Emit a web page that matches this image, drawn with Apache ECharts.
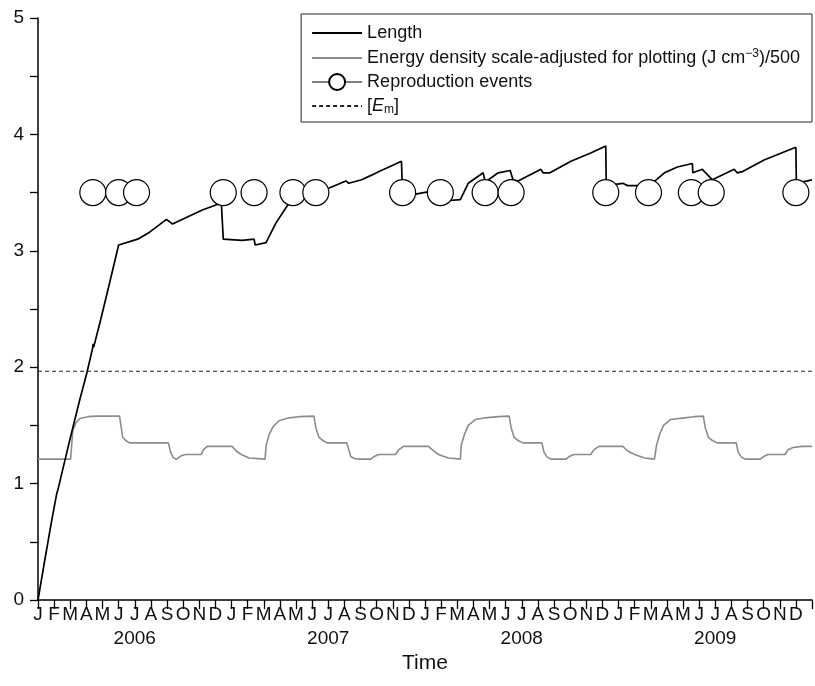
<!DOCTYPE html>
<html>
<head>
<meta charset="utf-8">
<script src="https://cdn.jsdelivr.net/npm/echarts@6/dist/echarts.min.js"></script>
<style>
	html, body { margin: 0; padding: 0; background: #fff; }
	#main { width: 815px; height: 686px; }
</style>
</head>
<body>
<div id="main"></div>
<script>
// months since Jan 2006 on x, values on y
var monthLabels = ['J', 'F', 'M', 'A', 'M', 'J', 'J', 'A', 'S', 'O', 'N', 'D'];
var yearLabels = ['2006', '2007', '2008', '2009'];

var lengthData = [
	[0, 0], [0.43, 0.35], [0.86, 0.69], [1.17, 0.92], [1.24, 0.95], [1.98, 1.38],
	[2.59, 1.72], [3.03, 1.95], [3.38, 2.16], [3.42, 2.2], [3.45, 2.17], [3.89, 2.41],
	[4.45, 2.73], [5.0, 3.05], [6.18, 3.1], [6.92, 3.16], [7.97, 3.27], [8.34, 3.23],
	[10.19, 3.35], [11.37, 3.41], [11.49, 3.41], [11.49, 3.1], [12.66, 3.09],
	[13.4, 3.1], [13.47, 3.05], [14.14, 3.07], [14.76, 3.24], [15.57, 3.41],
	[15.8, 3.43], [16.0, 3.42], [17.11, 3.58], [17.23, 3.51], [17.73, 3.52],
	[19.09, 3.6], [19.27, 3.58], [20.07, 3.61], [20.69, 3.65], [21.12, 3.68],
	[22.54, 3.77], [22.61, 3.77], [22.61, 3.48], [23.16, 3.48], [24.34, 3.51],
	[24.4, 3.48], [25.32, 3.43], [26.19, 3.44], [26.68, 3.58], [27.61, 3.67],
	[27.73, 3.59], [28.54, 3.67], [29.28, 3.69], [29.46, 3.61], [29.77, 3.6],
	[31.19, 3.7], [31.32, 3.67], [31.75, 3.67], [33.05, 3.77], [34.28, 3.84],
	[35.21, 3.9], [35.24, 3.56], [36.26, 3.58], [36.57, 3.56], [37.92, 3.56],
	[38.85, 3.67], [39.65, 3.72], [40.58, 3.75], [40.61, 3.67], [41.2, 3.7],
	[41.82, 3.61], [43.17, 3.7], [43.36, 3.67], [43.67, 3.68], [45.03, 3.78],
	[46.45, 3.86], [47.0, 3.89], [47.03, 3.58], [48, 3.61]
];

var energyData = [
	[0, 1.21], [2.02, 1.21], [2.16, 1.46], [2.35, 1.52], [2.59, 1.56], [3.09, 1.575],
	[3.64, 1.58], [5.06, 1.58], [5.13, 1.51], [5.25, 1.4], [5.44, 1.37], [5.68, 1.35],
	[6.73, 1.35], [8.09, 1.35], [8.22, 1.27], [8.4, 1.22], [8.59, 1.21], [8.89, 1.24],
	[9.14, 1.25], [10.13, 1.25], [10.25, 1.29], [10.5, 1.32], [12.04, 1.32],
	[12.29, 1.28], [12.6, 1.25], [13.09, 1.22], [14.08, 1.21], [14.15, 1.33],
	[14.33, 1.42], [14.58, 1.49], [14.95, 1.54], [15.57, 1.565], [16.18, 1.575],
	[17.11, 1.58], [17.23, 1.48], [17.42, 1.4], [17.67, 1.37], [17.91, 1.35],
	[19.15, 1.35], [19.4, 1.23], [19.64, 1.215], [19.89, 1.21], [20.63, 1.21],
	[20.82, 1.23], [21.12, 1.25], [22.17, 1.25], [22.36, 1.29], [22.67, 1.32],
	[24.21, 1.32], [24.46, 1.29], [24.83, 1.25], [25.45, 1.22], [26.19, 1.21],
	[26.25, 1.33], [26.44, 1.42], [26.68, 1.5], [27.12, 1.55], [27.73, 1.565],
	[28.54, 1.575], [29.22, 1.58], [29.34, 1.48], [29.52, 1.4], [29.77, 1.37],
	[30.08, 1.35], [31.25, 1.35], [31.38, 1.27], [31.56, 1.23], [31.81, 1.21],
	[32.74, 1.21], [32.92, 1.23], [33.23, 1.25], [34.28, 1.25], [34.47, 1.29],
	[34.78, 1.32], [36.26, 1.32], [36.57, 1.28], [37.0, 1.25], [37.62, 1.22],
	[38.23, 1.21], [38.36, 1.33], [38.54, 1.42], [38.79, 1.5], [39.22, 1.55],
	[40.09, 1.565], [40.7, 1.575], [41.26, 1.58], [41.38, 1.48], [41.57, 1.4],
	[41.82, 1.37], [42.13, 1.35], [43.3, 1.35], [43.42, 1.27], [43.61, 1.23],
	[43.85, 1.21], [44.78, 1.21], [44.97, 1.23], [45.27, 1.25], [46.33, 1.25],
	[46.51, 1.29], [46.82, 1.31], [47.38, 1.32], [48, 1.32]
];

var reproMonths = [3.4, 5.0, 6.11, 11.49, 13.4, 15.81, 17.23, 22.61, 24.95, 27.73, 29.34, 35.21, 37.86, 40.52, 41.75, 47.0];
var reproLevel = 3.5;
var emLevel = 1.965;

var reproData = [];
for (var i = 0; i < reproMonths.length; i++) {
	reproData.push([reproMonths[i], reproLevel]);
}

var font = 'Liberation Sans';

var myChart = echarts.init(document.getElementById('main'));
var option = {
	animation: false,
	backgroundColor: '#fff',
	textStyle: { fontFamily: font, color: '#111' },
	grid: { left: 38, right: 0, top: 18, bottom: 86 },
	legend: {
		orient: 'vertical',
		right: 3,
		top: 14,
		padding: [10, 12, 6, 10],
		itemGap: 6,
		itemWidth: 50,
		itemHeight: 20,
		borderColor: '#222',
		borderWidth: 1,
		backgroundColor: '#fff',
		textStyle: {
			fontFamily: font,
			fontSize: 18,
			color: '#111',
			rich: {
				a: { fontFamily: font, fontSize: 18, lineHeight: 20, color: '#111' },
				sup: { fontFamily: font, fontSize: 12, lineHeight: 20, verticalAlign: 'top', color: '#111' },
				it: { fontFamily: font, fontSize: 18, lineHeight: 20, fontStyle: 'italic', color: '#111' },
				sub: { fontFamily: font, fontSize: 12, lineHeight: 20, verticalAlign: 'bottom', color: '#111' }
			}
		},
		formatter: function (name) {
			if (name === 'Energy') {
				return '{a|Energy density scale-adjusted for plotting (J cm}{sup|\u22123}{a|)/500}';
			}
			if (name === 'Em') {
				return '{a|[}{it|E}{sub|m}{a|]}';
			}
			return '{a|' + name + '}';
		},
		data: [
			{ name: 'Length', itemStyle: { opacity: 0 } },
			{ name: 'Energy', itemStyle: { opacity: 0 } },
			{ name: 'Reproduction events', lineStyle: { color: '#000', width: 1, opacity: 1 } },
			{ name: 'Em', itemStyle: { opacity: 0 } }
		]
	},
	xAxis: [{
		type: 'value',
		min: 0,
		max: 48,
		interval: 1,
		axisLine: { lineStyle: { color: '#000', width: 1.5 } },
		axisTick: { length: 9, lineStyle: { color: '#000', width: 1.3 } },
		splitLine: { show: false },
		axisLabel: {
			fontFamily: font,
			fontSize: 19,
			color: '#111',
			margin: 5,
			formatter: function (v) {
				return v < 48 ? monthLabels[v % 12] : '';
			}
		}
	}, {
		type: 'category',
		data: yearLabels,
		position: 'bottom',
		offset: 24,
		boundaryGap: true,
		axisLine: { show: false },
		axisTick: { show: false },
		axisLabel: { fontFamily: font, fontSize: 19, color: '#111', margin: 5 },
		name: 'Time',
		nameLocation: 'middle',
		nameGap: 25,
		nameTextStyle: { fontFamily: font, fontSize: 21, color: '#111' }
	}],
	yAxis: {
		type: 'value',
		min: 0,
		max: 5,
		interval: 1,
		axisLine: { show: true, lineStyle: { color: '#000', width: 1.5 } },
		axisTick: { show: true, length: 8, lineStyle: { color: '#000', width: 1.3 } },
		minorTick: { show: true, splitNumber: 2, length: 8, lineStyle: { color: '#000', width: 1.3 } },
		splitLine: { show: false },
		axisLabel: { fontFamily: font, fontSize: 19, color: '#111', margin: 14 }
	},
	series: [{
		name: 'Length',
		type: 'line',
		data: lengthData,
		symbol: 'none',
		lineStyle: { color: '#000', width: 1.7 },
		itemStyle: { color: '#000' },
		z: 3
	}, {
		name: 'Energy',
		type: 'line',
		data: energyData,
		symbol: 'none',
		lineStyle: { color: '#8c8c8c', width: 1.6 },
		itemStyle: { color: '#8c8c8c' },
		z: 2
	}, {
		name: 'Reproduction events',
		type: 'line',
		data: reproData,
		symbol: 'circle',
		symbolSize: 26,
		lineStyle: { opacity: 0, width: 0 },
		itemStyle: { color: '#fff', borderColor: '#000', borderWidth: 1.2 },
		z: 5
	}, {
		name: 'Em',
		type: 'line',
		data: [[0, emLevel], [48, emLevel]],
		symbol: 'none',
		lineStyle: { color: '#222', width: 1, type: [4, 3] },
		itemStyle: { color: '#222' },
		z: 1
	}]
};
myChart.setOption(option);
</script>
</body>
</html>
